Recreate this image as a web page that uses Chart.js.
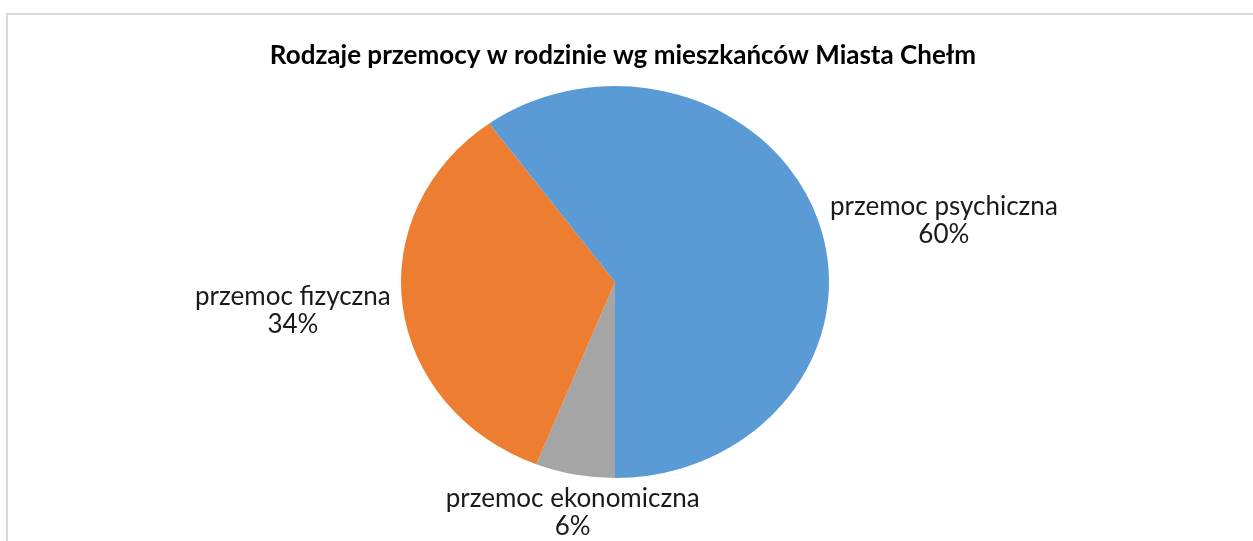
<!DOCTYPE html>
<html>
<head>
<meta charset="utf-8">
<script src="https://cdn.jsdelivr.net/npm/chart.js@4/dist/chart.umd.min.js"></script>
<style>
  html, body { margin: 0; padding: 0; background: #fff; }
  #wrap { position: relative; width: 1253px; height: 541px; overflow: hidden; }
  #frame { position: absolute; left: 6px; top: 13px; width: 1300px; height: 600px;
           border-top: 2px solid #d9d9d9; border-left: 2px solid #d9d9d9; box-sizing: border-box; }
  canvas { position: absolute; left: 0; top: 0; }
</style>
</head>
<body>
<div id="wrap">
  <div id="frame"></div>
  <canvas id="c" width="1253" height="541"></canvas>
</div>
<script>
const chartTitle = 'Rodzaje przemocy w rodzinie wg mieszkańców Miasta Chełm';
const categories = ['przemoc ekonomiczna', 'przemoc fizyczna', 'przemoc psychiczna'];
const values = [6, 34, 60];
const colors = ['#A5A5A5', '#ED7D31', '#5B9BD5'];

const SX = 214 / 196; // horizontal stretch of the pie (ellipse)
const LABEL_FONT = '26px Lato';
const TITLE_FONT = 'bold 26px Lato';

const ellipsePlugin = {
  id: 'ellipse',
  beforeDatasetsDraw(chart) {
    const arc = chart.getDatasetMeta(0).data[0];
    const ctx = chart.ctx;
    ctx.save();
    ctx.translate(arc.x, arc.y);
    ctx.scale(SX, 1);
    ctx.translate(-arc.x, -arc.y);
  },
  afterDatasetsDraw(chart) {
    chart.ctx.restore();
  },
  afterDraw(chart) {
    const ctx = chart.ctx;
    const meta = chart.getDatasetMeta(0);
    const total = values.reduce((a, b) => a + b, 0);
    ctx.save();
    // title
    ctx.font = TITLE_FONT;
    ctx.fillStyle = '#000';
    ctx.textAlign = 'center';
    ctx.textBaseline = 'alphabetic';
    ctx.fillText(chartTitle, 623, 64);
    // labels
    ctx.font = LABEL_FONT;
    ctx.fillStyle = '#1a1a1a';
    const lh = 28;
    meta.data.forEach((arc, i) => {
      const mid = (arc.startAngle + arc.endAngle) / 2;
      const r = arc.outerRadius;
      const dx = Math.cos(mid), dy = Math.sin(mid);
      const gap = 12;
      const ex = arc.x + dx * r * SX + dx * gap;
      const ey = arc.y + dy * r + dy * gap;
      const lines = [categories[i], Math.round(values[i] / total * 100) + '%'];
      let align, b1;
      if (Math.abs(dx) < 0.4) {
        align = 'center';
        b1 = dy > 0 ? ey + 21 : ey - lh - 6;
      } else {
        align = dx > 0 ? 'left' : 'right';
        b1 = ey - 3;
      }
      const w = Math.max(...lines.map(l => ctx.measureText(l).width));
      let cxText;
      if (align === 'center') cxText = ex;
      else if (align === 'left') cxText = ex + w / 2;
      else cxText = ex - w / 2;
      ctx.textAlign = 'center';
      ctx.textBaseline = 'alphabetic';
      lines.forEach((l, k) => ctx.fillText(l, cxText, b1 + lh * k));
    });
    ctx.restore();
  }
};

new Chart(document.getElementById('c'), {
  type: 'pie',
  data: {
    labels: categories,
    datasets: [{
      data: values,
      backgroundColor: colors,
      borderWidth: 0
    }]
  },
  options: {
    responsive: false,
    animation: false,
    rotation: 180,
    layout: { padding: { top: 86, bottom: 63, left: 400, right: 423 } },
    plugins: {
      legend: { display: false },
      title: { display: false },
      tooltip: { enabled: false }
    }
  },
  plugins: [ellipsePlugin]
});
</script>
</body>
</html>
